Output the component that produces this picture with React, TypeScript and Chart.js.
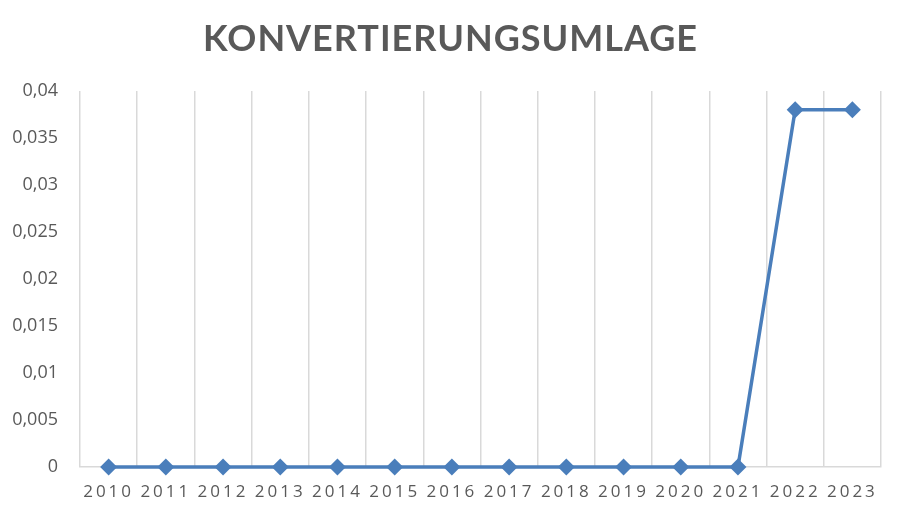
import {useEffect, useRef} from "react";

import {CategoryScale, Chart, registerables} from "chart.js";

Chart.register(...registerables);

// Data
const title = "KONVERTIERUNGSUMLAGE";
const years = ["2010", "2011", "2012", "2013", "2014", "2015", "2016", "2017", "2018", "2019", "2020", "2021", "2022", "2023"];
const umlage = [0, 0, 0, 0, 0, 0, 0, 0, 0, 0, 0, 0, 0.038, 0.038];
const yMin = 0;
const yMax = 0.04;
const yStep = 0.005;

const textColor = "#595959";
const gridColor = "#d9d9d9";
const lineColor = "#4a7ebb";

// category axis whose labels are drawn with letter spacing, like the Excel original
class SpacedCategoryScale extends CategoryScale {
  static id = "spacedCategory";
  static defaults = CategoryScale.defaults;

  drawLabels(chartArea: any) {
    const ctx = this.ctx as any;
    ctx.save();
    ctx.letterSpacing = "3px";
    super.drawLabels(chartArea);
    ctx.restore();
  }
}
Chart.register(SpacedCategoryScale);

const spacedTitle = {
  id: "spacedTitle",
  afterDraw(chart: Chart) {
    const ctx = chart.ctx as any;
    ctx.save();
    ctx.font = "bold 36px Lato";
    ctx.fillStyle = textColor;
    ctx.letterSpacing = "1px";
    ctx.textAlign = "center";
    ctx.textBaseline = "alphabetic";
    ctx.fillText(title, chart.width / 2 - 1, 51);
    ctx.restore();
  },
};

export default function App() {
  const canvasRef = useRef<HTMLCanvasElement>(null);
  const chartInstance = useRef<Chart | null>(null);

  useEffect(() => {
    if (!canvasRef.current) return;
    if (chartInstance.current) chartInstance.current.destroy();

    chartInstance.current = new Chart(canvasRef.current, {
      type: "line",
      data: {
        labels: years,
        datasets: [
          {
            label: title,
            data: umlage,
            borderColor: lineColor,
            backgroundColor: lineColor,
            borderWidth: 3.5,
            pointStyle: "rectRot",
            pointRadius: 8.5,
            pointBackgroundColor: lineColor,
            pointBorderColor: lineColor,
            pointBorderWidth: 0,
            tension: 0,
            clip: false,
          },
        ],
      },
      options: {
        animation: false,
        responsive: true,
        maintainAspectRatio: false,
        layout: {padding: {top: 91, right: 22, bottom: 8, left: 8}},
        plugins: {
          legend: {display: false},
          title: {display: false},
          tooltip: {enabled: false},
        },
        scales: {
          x: {
            type: "spacedCategory" as any,
            offset: true,
            grid: {display: true, offset: true, color: gridColor, lineWidth: 1.5, drawTicks: false},
            border: {display: true, color: gridColor, width: 1.5},
            ticks: {
              color: textColor,
              font: {family: "'Open Sans'", size: 17},
              padding: 15,
              maxRotation: 0,
              autoSkip: false,
            },
            afterFit: (scale: any) => {
              scale.height = 40;
            },
          },
          y: {
            min: yMin,
            max: yMax,
            grid: {display: false, drawTicks: false},
            border: {display: false},
            ticks: {
              stepSize: yStep,
              color: textColor,
              font: {family: "'Open Sans'", size: 18},
              padding: 22,
              callback: value => Number(value).toLocaleString("de-DE", {maximumFractionDigits: 3}),
            },
            afterFit: (scale: any) => {
              scale.width = 72;
            },
          },
        },
      },
      plugins: [spacedTitle],
    });

    return () => {
      if (chartInstance.current) {
        chartInstance.current.destroy();
        chartInstance.current = null;
      }
    };
  }, []);

  return (
    <div style={{position: "fixed", left: 0, top: 0, width: 903, height: 515, background: "#fff"}}>
      <canvas ref={canvasRef} />
    </div>
  );
}
